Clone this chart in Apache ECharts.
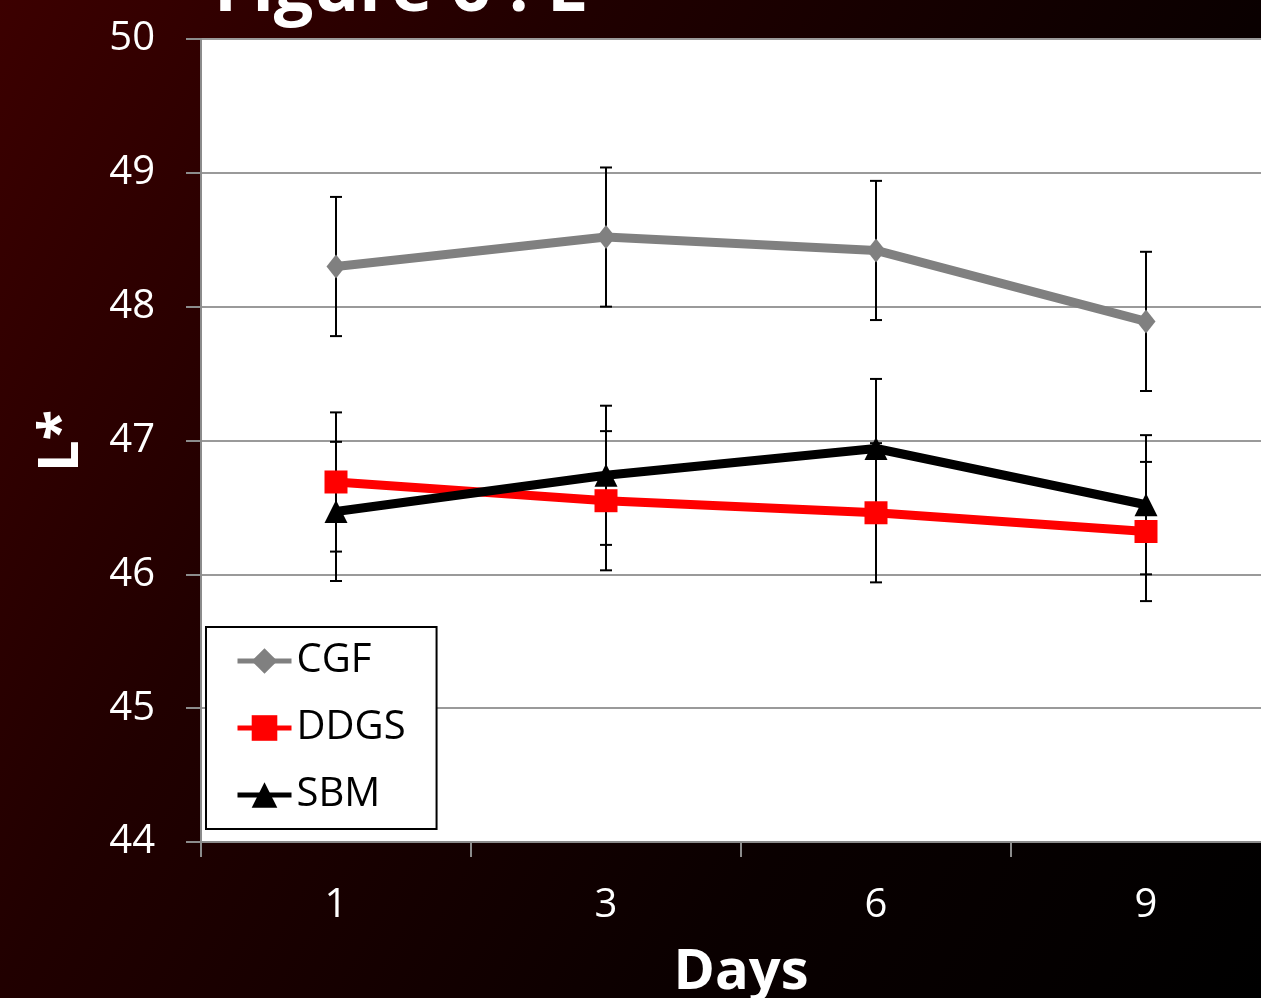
<!DOCTYPE html>
<html><head><meta charset="utf-8">
<script src="https://cdn.jsdelivr.net/npm/echarts@6/dist/echarts.min.js"></script>
<style>
html,body{margin:0;padding:0;}
body{width:1261px;height:998px;overflow:hidden;background:linear-gradient(120deg,#3c0000 0%,#210000 31%,#0a0000 69%,#000 100%);}
#c{width:1261px;height:998px;}
</style></head><body><div id="c"></div>
<script>
const days = ['1', '3', '6', '9'];
const cgf = [48.30, 48.52, 48.42, 47.89];
const ddgs = [46.69, 46.55, 46.46, 46.32];
const sbm = [46.47, 46.74, 46.94, 46.52];
const cgfErr = [0.52, 0.52, 0.52, 0.52];
const ddgsErr = [0.52, 0.52, 0.52, 0.52];
const sbmErr = [0.52, 0.52, 0.52, 0.52];
const yMin = 44, yMax = 50, yStep = 1;

const FONT = "'Open Sans', 'Noto Sans', sans-serif";
const AX = '#8c8c8c';

function errSeries(vals, errs) {
  return {
    type: 'custom', z: 1, silent: true,
    data: vals.map((v, i) => [i, v, errs[i]]),
    encode: { x: 0, y: 1 },
    renderItem(params, api) {
      const i = api.value(0), v = api.value(1), e = api.value(2);
      const t = api.coord([i, v + e]), b = api.coord([i, v - e]);
      const hw = 6;
      const st = { stroke: '#000', lineWidth: 2 };
      return { type: 'group', children: [
        { type: 'line', shape: { x1: t[0], y1: t[1], x2: b[0], y2: b[1] }, style: st },
        { type: 'line', shape: { x1: t[0] - hw, y1: t[1], x2: t[0] + hw, y2: t[1] }, style: st },
        { type: 'line', shape: { x1: b[0] - hw, y1: b[1], x2: b[0] + hw, y2: b[1] }, style: st }
      ]};
    }
  };
}

function lineSeries(name, data, symbol, size, color, z) {
  return {
    name, type: 'line', data, z, symbol, symbolSize: size,
    lineStyle: { color: color, width: 9 },
    itemStyle: { color: color },
    emphasis: { disabled: true }
  };
}

const chart = echarts.init(document.getElementById('c'), null, { renderer: 'canvas' });
chart.setOption({
  backgroundColor: 'transparent',
  animation: false,
  grid: { left: 201, top: 39, width: 1080, height: 803, show: true, backgroundColor: '#fff', borderWidth: 0, containLabel: false, outerBoundsMode: 'none' },
  xAxis: {
    type: 'category', data: days, boundaryGap: true,
    axisLine: { show: true, lineStyle: { color: AX, width: 2 } },
    axisTick: { show: true, length: 15, lineStyle: { color: AX, width: 2 } },
    axisLabel: { color: '#fff', fontSize: 40, fontFamily: FONT, margin: 44 },
    splitLine: { show: false }
  },
  yAxis: {
    type: 'value', min: yMin, max: yMax, interval: yStep,
    axisLine: { show: true, lineStyle: { color: AX, width: 2 } },
    axisTick: { show: true, length: 15, lineStyle: { color: AX, width: 2 } },
    axisLabel: { color: '#fff', fontSize: 40, fontFamily: FONT, margin: 46 },
    splitLine: { show: true, lineStyle: { color: '#9a9a9a', width: 2 } }
  },
  legend: {
    orient: 'vertical', left: 206, top: 627,
    padding: [14, 31, 14, 29], itemGap: 27, itemWidth: 54, itemHeight: 32,
    backgroundColor: '#fff', borderColor: '#000', borderWidth: 2, borderRadius: 0,
    lineStyle: { width: 5 },
    textStyle: { color: '#000', fontSize: 40, fontFamily: FONT, lineHeight: 40 },
    data: ['CGF', 'DDGS', 'SBM']
  },
  graphic: [
    { type: 'text', left: 214, top: -44, style: { text: 'Figure 6 : L*', fill: '#fff', font: "bold 70px 'Open Sans', sans-serif" } },
    { type: 'text', x: 741, y: 973, style: { text: 'Days', fill: '#fff', font: "bold 56px 'Open Sans', sans-serif", align: 'center', verticalAlign: 'middle' } },
    { type: 'text', x: 62, y: 441, rotation: Math.PI / 2, style: { text: 'L*', fill: '#fff', font: "bold 56px 'Open Sans', sans-serif", align: 'center', verticalAlign: 'middle' } }
  ],
  series: [
    errSeries(cgf, cgfErr),
    errSeries(ddgs, ddgsErr),
    errSeries(sbm, sbmErr),
    lineSeries('CGF', cgf, 'diamond', [19, 24], '#808080', 3),
    lineSeries('DDGS', ddgs, 'rect', 23, '#ff0000', 3),
    lineSeries('SBM', sbm, 'triangle', 23, '#000000', 4)
  ]
});
</script></body></html>
